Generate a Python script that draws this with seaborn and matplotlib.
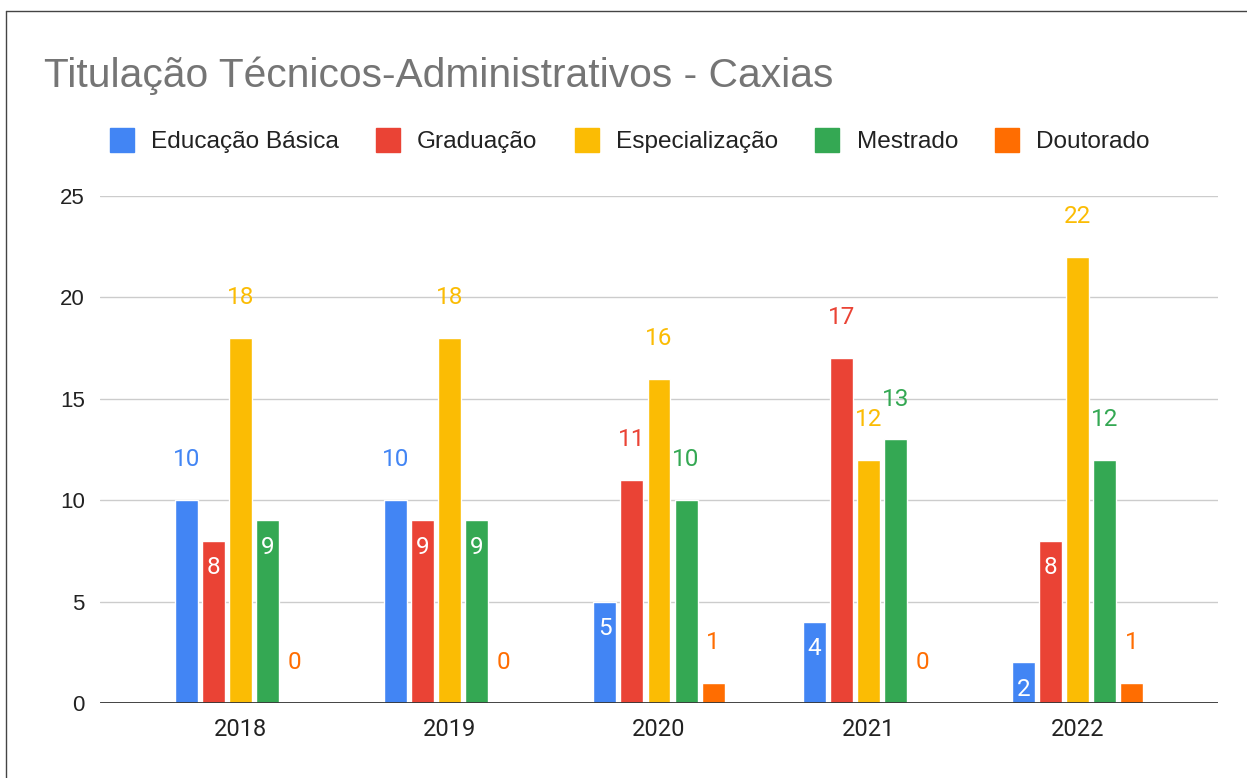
import pandas as pd
import matplotlib
matplotlib.use('Agg')
import matplotlib.pyplot as plt
from matplotlib.lines import Line2D
import seaborn as sns

# Chart data
years = ['2018', '2019', '2020', '2021', '2022']
educacao_basica = [10, 10, 5, 4, 2]
graduacao = [8, 9, 11, 17, 8]
especializacao = [18, 18, 16, 12, 22]
mestrado = [9, 9, 10, 13, 12]
doutorado = [0, 0, 1, 0, 1]

series_names = ['Educação Básica', 'Graduação', 'Especialização', 'Mestrado', 'Doutorado']
series_values = [educacao_basica, graduacao, especializacao, mestrado, doutorado]
colors = ['#4285F4', '#EA4335', '#FBBC04', '#34A853', '#FF6D01']

# Long-form table for seaborn
rows = []
for name, vals in zip(series_names, series_values):
    for year, v in zip(years, vals):
        rows.append({'Ano': year, 'Titulação': name, 'Quantidade': v})
df = pd.DataFrame(rows)

sns.set_style('white')
plt.rcParams['font.family'] = ['Roboto', 'DejaVu Sans']

fig = plt.figure(figsize=(12.47, 7.78), dpi=100)
ax = fig.add_axes([100 / 1247, 75 / 778, 1118 / 1247, 507 / 778])

sns.barplot(data=df, x='Ano', y='Quantidade', hue='Titulação', order=years,
            hue_order=series_names, palette=colors, width=0.646, gap=0.15,
            saturation=1, ax=ax, zorder=3)

ax.set_ylim(0, 25)
ax.set_xlim(-0.67, 4.67)
ax.set_yticks([0, 5, 10, 15, 20, 25])
ax.grid(axis='y', color='#cccccc', lw=1, zorder=0)
ax.grid(axis='x', visible=False)
ax.axhline(0, color='#333333', lw=2, zorder=4)
for s in ax.spines.values():
    s.set_visible(False)
ax.set_xlabel('')
ax.set_ylabel('')
ax.tick_params(axis='both', length=0)
ax.tick_params(axis='y', pad=11, labelsize=16, labelcolor='#222222')
ax.tick_params(axis='x', pad=11, labelsize=17, labelcolor='#222222')
for t in ax.get_yticklabels():
    t.set_family(['Liberation Sans', 'DejaVu Sans'])

# Data labels: single digits inside the bar (when it is tall enough), others above
for cont, name, color in zip(ax.containers, series_names, colors):
    for bar in cont:
        v = bar.get_height()
        xc = bar.get_x() + bar.get_width() / 2
        if 2 <= v <= 9:
            ax.annotate(f'{int(v)}', (xc, v), xytext=(0, -19.5), textcoords='offset points',
                        ha='center', va='center', color='white', fontsize=17.5, zorder=5)
        else:
            ax.annotate(f'{int(v)}', (xc, v), xytext=(0, 29), textcoords='offset points',
                        ha='center', va='center', color=color, fontsize=17.5, zorder=5)

# Legend across the top
ax.get_legend().remove()
handles = [Line2D([0], [0], marker='s', linestyle='none', markersize=17,
                  markerfacecolor=c, markeredgecolor=c) for c in colors]
fig.legend(handles, series_names, loc='center left', bbox_to_anchor=(88 / 1247, 1 - 142 / 778),
           ncol=5, frameon=False, handlelength=0.95, handletextpad=0.72,
           columnspacing=1.54, labelcolor='#222222',
           prop={'family': ['Liberation Sans', 'DejaVu Sans'], 'size': 17.6})

fig.text(44 / 1247, 1 - 76 / 778, 'Titulação Técnicos-Administrativos - Caxias',
         fontsize=29.3, color='#757575', ha='left', va='center',
         family=['Liberation Sans', 'DejaVu Sans'])

# Frame around the chart
fig.add_artist(Line2D([6 / 1247, 6 / 1247], [0, 1 - 11 / 778], color='#444444', lw=1))
fig.add_artist(Line2D([6 / 1247, 1], [1 - 11 / 778, 1 - 11 / 778], color='#444444', lw=1))

fig.savefig('out.png', dpi=100)
